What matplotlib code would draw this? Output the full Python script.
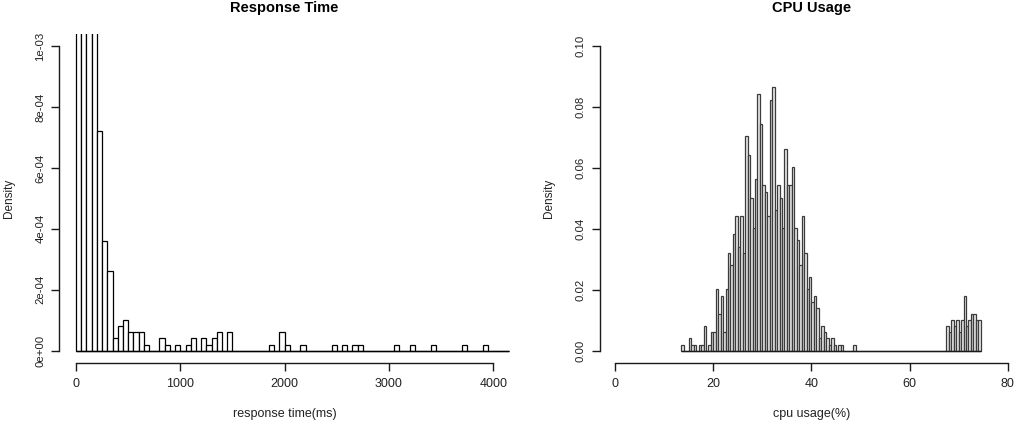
import numpy as np
import matplotlib.pyplot as plt

plt.rcParams['font.family'] = ['Liberation Sans', 'DejaVu Sans']

# response time histogram: bin start (ms) -> count, bin width 50, n = 1000
rt_bins = [0, 50, 100, 150, 200, 250, 300, 350, 400, 450, 500, 550, 600, 650,
           800, 850, 950, 1050, 1100, 1200, 1250, 1300, 1350, 1450,
           1850, 1950, 2000, 2150, 2450, 2550, 2650, 2700,
           3050, 3200, 3400, 3700, 3900]
rt_counts = [150, 250, 270, 209, 36, 18, 13, 2, 4, 5, 3, 3, 3, 1,
             2, 1, 1, 1, 2, 2, 1, 2, 3, 3,
             1, 3, 1, 1, 1, 1, 1, 1,
             1, 1, 1, 1, 1]
rt_width = 50
rt_max = 4150

# cpu usage histogram, bin width 0.5
cpu_width = 0.5
cpu_main_start = 13.5
cpu_main_counts = [1, 0, 0, 2, 1, 1, 0, 1, 1, 4, 0, 1, 3, 3, 10, 6, 9, 3, 10, 16, 14, 19,
                   22, 17, 22, 16, 35, 32, 25, 20, 28, 42, 37, 27, 26, 22, 41, 43, 23, 27,
                   25, 20, 33, 27, 27, 30,
                   20, 18, 14, 22, 16, 10, 12, 8, 9, 7, 2, 4, 3, 2, 1, 2, 1, 0, 1, 1,
                   0, 0, 0, 0, 1]
cpu_high_start = 67.5
cpu_high_counts = [4, 3, 5, 4, 5, 3, 5, 9, 4, 5, 6, 6, 5, 5]

rt_yticks = [0, 2e-4, 4e-4, 6e-4, 8e-4, 1e-3]
rt_yticklabels = ['0e+00', '2e-04', '4e-04', '6e-04', '8e-04', '1e-03']
rt_xticks = [0, 1000, 2000, 3000, 4000]
cpu_yticks = [0, 0.02, 0.04, 0.06, 0.08, 0.10]
cpu_yticklabels = ['0.00', '0.02', '0.04', '0.06', '0.08', '0.10']
cpu_xticks = [0, 20, 40, 60, 80]

TXT = '#222222'
W, H = 1024, 424


def r_style(ax, xb, yb, xticks, yticks, yticklabels):
    for s in ['top', 'right']:
        ax.spines[s].set_visible(False)
    ax.spines['left'].set_bounds(*yb)
    ax.spines['bottom'].set_bounds(*xb)
    for s in ['left', 'bottom']:
        ax.spines[s].set_linewidth(1.0)
        ax.spines[s].set_color('#1a1a1a')
    ax.set_xticks(xticks)
    ax.set_xticklabels([str(t) for t in xticks])
    ax.set_yticks(yticks)
    ax.set_yticklabels(yticklabels, rotation=90, va='center')
    ax.tick_params(axis='both', direction='out', length=5.5, width=1.0,
                   colors='#1a1a1a', labelcolor=TXT)
    ax.tick_params(axis='x', pad=5.2, labelsize=9)
    ax.tick_params(axis='y', pad=4.5, labelsize=8.2)
    ax.set_facecolor('white')


fig = plt.figure(figsize=(W / 100, H / 100), dpi=100)

# left panel
ax1 = fig.add_axes([59.3 / W, (H - 362.8) / H, 450.7 / W, 328.8 / H])
rt_edges = np.arange(0, rt_max + rt_width, rt_width)
ax1.hist(rt_bins, bins=rt_edges, weights=rt_counts, density=True,
         histtype='bar', facecolor='white', edgecolor='black', linewidth=0.9)
ax1.hlines(0, rt_edges[0], rt_edges[-1], colors='black', linewidth=1.0)
ax1.set_xlim(-160, 4160)
ax1.set_ylim(-0.04e-3, 1.04e-3)
r_style(ax1, (0, 4000), (0, 1e-3), rt_xticks, rt_yticks, rt_yticklabels)

# right panel
ax2 = fig.add_axes([599.5 / W, (H - 362.8) / H, 423.9 / W, 328.8 / H])
cpu_edges = np.arange(cpu_main_start, cpu_high_start + cpu_width * (len(cpu_high_counts) + 0.5), cpu_width)
cpu_full = np.zeros(len(cpu_edges) - 1)
i0 = int(round((cpu_high_start - cpu_main_start) / cpu_width))
cpu_full[:len(cpu_main_counts)] = cpu_main_counts
cpu_full[i0:i0 + len(cpu_high_counts)] = cpu_high_counts
cpu_centers = cpu_edges[:-1] + cpu_width / 2
ax2.hist(cpu_centers, bins=cpu_edges, weights=cpu_full, density=True,
         histtype='bar', facecolor='#e6e6e6', edgecolor='#3c3c3c', linewidth=0.9)
ax2.hlines(0, cpu_edges[0], cpu_edges[-1], colors='#1a1a1a', linewidth=1.0)
ax2.set_xlim(-3.2, 83.2)
ax2.set_ylim(-0.004, 0.104)
r_style(ax2, (0, 80), (0, 0.10), cpu_xticks, cpu_yticks, cpu_yticklabels)

# titles and axis labels
fig.text(284.6 / W, 1 - 8 / H, 'Response Time', ha='center', va='center',
         fontsize=10.5, fontweight='bold', color='black')
fig.text(811.5 / W, 1 - 8 / H, 'CPU Usage', ha='center', va='center',
         fontsize=10.5, fontweight='bold', color='black')
fig.text(284.6 / W, 1 - 414.5 / H, 'response time(ms)', ha='center', va='center',
         fontsize=9, color=TXT)
fig.text(811.5 / W, 1 - 414.5 / H, 'cpu usage(%)', ha='center', va='center',
         fontsize=9, color=TXT)
fig.text(9.3 / W, 1 - 198.4 / H, 'Density', ha='center', va='center',
         rotation=90, fontsize=8.5, color=TXT)
fig.text(549.3 / W, 1 - 198.4 / H, 'Density', ha='center', va='center',
         rotation=90, fontsize=8.5, color=TXT)

fig.savefig('out.png', dpi=100, facecolor='white')
